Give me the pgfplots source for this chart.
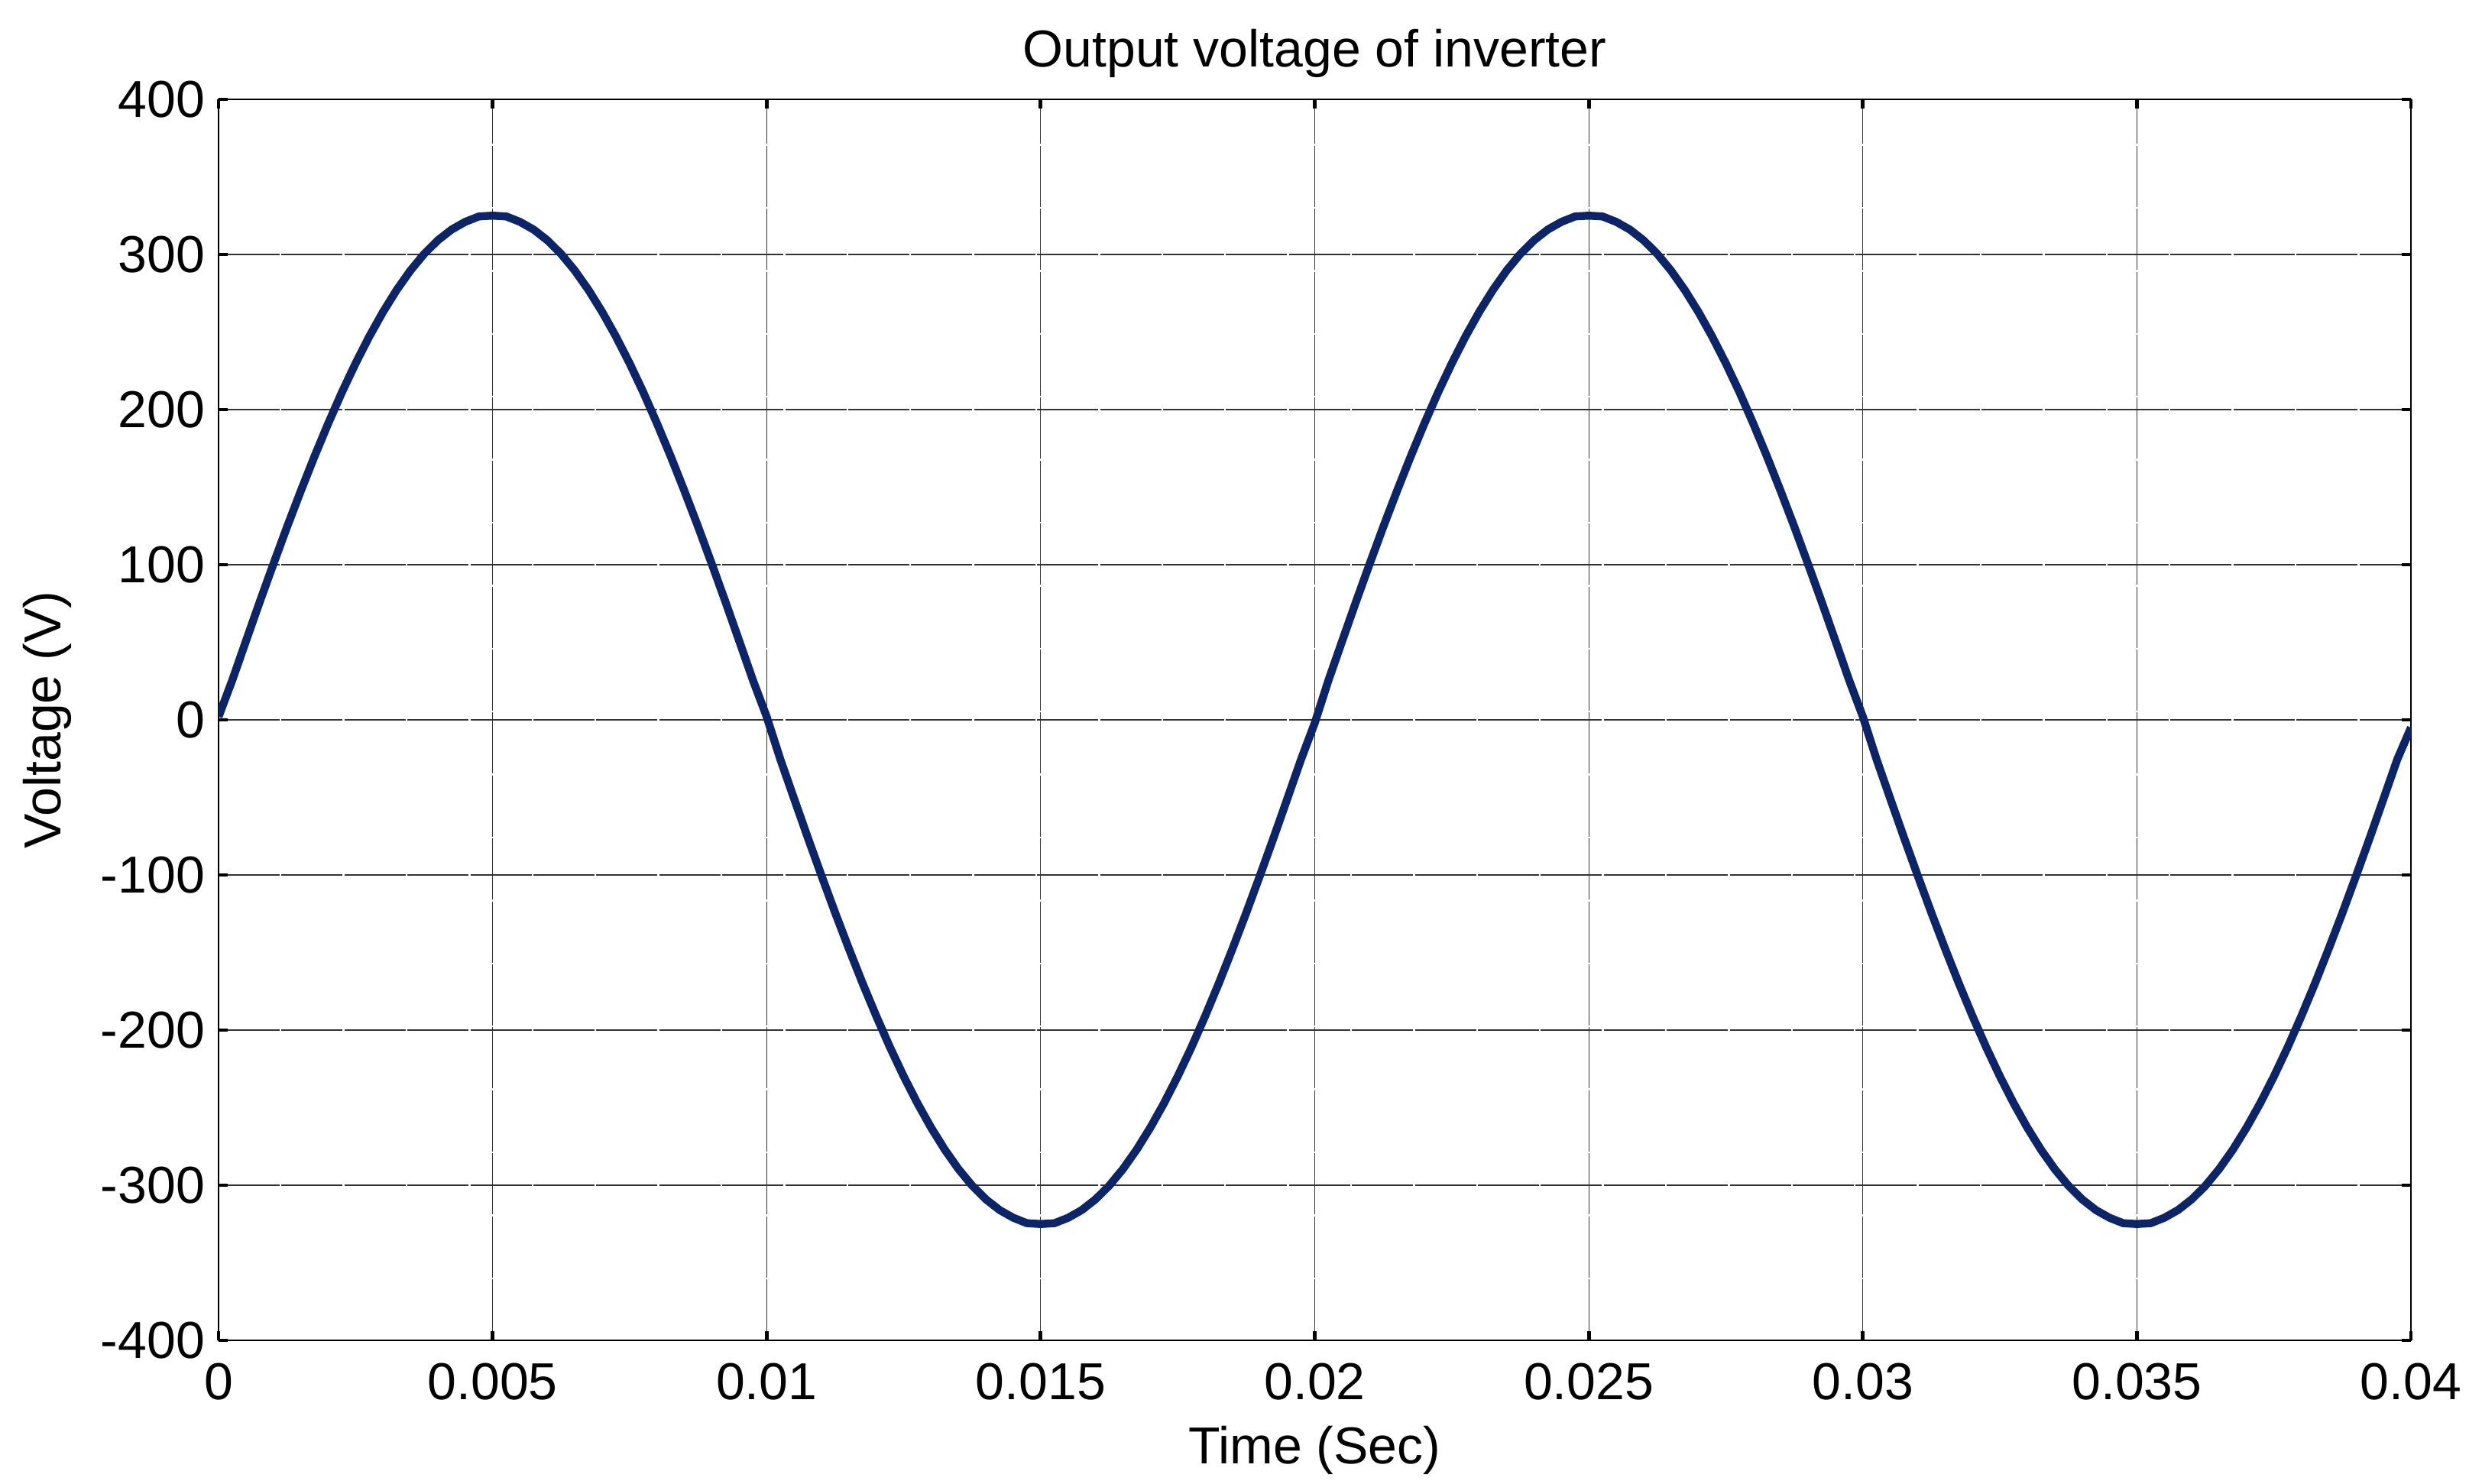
\documentclass[border=0pt]{standalone}
\usepackage{pgfplots}
\pgfplotsset{compat=1.18}
\usepackage{pgfplotstable}
\usepackage{fontspec}
\setmainfont{Liberation Sans}
\definecolor{wave}{RGB}{12,36,104}

% inverter output, sampled every 0.25 ms
\pgfplotstableread{
t v
0.00000 2
0.00025 25.5
0.00050 50.8
0.00075 75.9
0.00100 100.4
0.00125 124.4
0.00150 147.5
0.00175 169.8
0.00200 191.0
0.00225 211.1
0.00250 229.8
0.00275 247.1
0.00300 262.9
0.00325 277.1
0.00350 289.6
0.00375 300.3
0.00400 309.1
0.00425 316.0
0.00450 321.0
0.00475 324.5
0.00500 325.0
0.00525 324.5
0.00550 321.0
0.00575 316.0
0.00600 309.1
0.00625 300.3
0.00650 289.6
0.00675 277.1
0.00700 262.9
0.00725 247.1
0.00750 229.8
0.00775 211.1
0.00800 191.0
0.00825 169.8
0.00850 147.5
0.00875 124.4
0.00900 100.4
0.00925 75.9
0.00950 50.8
0.00975 25.5
0.01000 2
0.01025 -25.5
0.01050 -50.8
0.01075 -75.9
0.01100 -100.4
0.01125 -124.4
0.01150 -147.5
0.01175 -169.8
0.01200 -191.0
0.01225 -211.1
0.01250 -229.8
0.01275 -247.1
0.01300 -262.9
0.01325 -277.1
0.01350 -289.6
0.01375 -300.3
0.01400 -309.1
0.01425 -316.0
0.01450 -321.0
0.01475 -324.5
0.01500 -325.0
0.01525 -324.5
0.01550 -321.0
0.01575 -316.0
0.01600 -309.1
0.01625 -300.3
0.01650 -289.6
0.01675 -277.1
0.01700 -262.9
0.01725 -247.1
0.01750 -229.8
0.01775 -211.1
0.01800 -191.0
0.01825 -169.8
0.01850 -147.5
0.01875 -124.4
0.01900 -100.4
0.01925 -75.9
0.01950 -50.8
0.01975 -25.5
0.02000 -2
0.02025 25.5
0.02050 50.8
0.02075 75.9
0.02100 100.4
0.02125 124.4
0.02150 147.5
0.02175 169.8
0.02200 191.0
0.02225 211.1
0.02250 229.8
0.02275 247.1
0.02300 262.9
0.02325 277.1
0.02350 289.6
0.02375 300.3
0.02400 309.1
0.02425 316.0
0.02450 321.0
0.02475 324.5
0.02500 325.0
0.02525 324.5
0.02550 321.0
0.02575 316.0
0.02600 309.1
0.02625 300.3
0.02650 289.6
0.02675 277.1
0.02700 262.9
0.02725 247.1
0.02750 229.8
0.02775 211.1
0.02800 191.0
0.02825 169.8
0.02850 147.5
0.02875 124.4
0.02900 100.4
0.02925 75.9
0.02950 50.8
0.02975 25.5
0.03000 2
0.03025 -25.5
0.03050 -50.8
0.03075 -75.9
0.03100 -100.4
0.03125 -124.4
0.03150 -147.5
0.03175 -169.8
0.03200 -191.0
0.03225 -211.1
0.03250 -229.8
0.03275 -247.1
0.03300 -262.9
0.03325 -277.1
0.03350 -289.6
0.03375 -300.3
0.03400 -309.1
0.03425 -316.0
0.03450 -321.0
0.03475 -324.5
0.03500 -325.0
0.03525 -324.5
0.03550 -321.0
0.03575 -316.0
0.03600 -309.1
0.03625 -300.3
0.03650 -289.6
0.03675 -277.1
0.03700 -262.9
0.03725 -247.1
0.03750 -229.8
0.03775 -211.1
0.03800 -191.0
0.03825 -169.8
0.03850 -147.5
0.03875 -124.4
0.03900 -100.4
0.03925 -75.9
0.03950 -50.8
0.03975 -25.5
0.04000 -5
}\vout

\begin{document}
\begin{tikzpicture}
\begin{axis}[
  name=ax,
  scale only axis,
  width=717.25pt, height=406pt,
  xmin=0, xmax=0.04, ymin=-400, ymax=400,
  xtick={0,0.005,0.01,0.015,0.02,0.025,0.03,0.035,0.04},
  xticklabels={0,0.005,0.01,0.015,0.02,0.025,0.03,0.035,0.04},
  ytick={-400,-300,-200,-100,0,100,200,300,400},
  yticklabels={-400,-300,-200,-100,0,100,200,300,400},
  scaled x ticks=false,
  font=\fontsize{17}{20}\selectfont,
  tick label style={font=\fontsize{17}{20}\selectfont},
  xticklabel style={yshift=-4pt},
  yticklabel style={xshift=-1pt},
  tick align=inside,
  major tick length=3pt,
  tick style={black, line width=1.2pt},
  grid=major,
  grid style={black!80, line width=0.3pt, dash pattern=on 20pt off 0.6pt},
  axis line style={black, line width=0.5pt},
  title={Output voltage of inverter},
  title style={at={(0.5,1)}, anchor=center, yshift=9pt, inner sep=1pt},
  xlabel={Time (Sec)},
  xlabel style={at={(0.5,0)}, anchor=center, yshift=-36pt, inner sep=1pt},
  ylabel={Voltage (V)},
  ylabel style={at={(axis description cs:-0.0781,0.5)}, anchor=center, inner sep=1pt},
]
\addplot[wave, line width=2.6pt, line join=round] table[x=t, y=v] {\vout};
\end{axis}
\path (ax.south west) ++(-71.5pt,-47pt);
\path (ax.north east) ++(23.25pt,32.5pt);
\end{tikzpicture}
\end{document}
